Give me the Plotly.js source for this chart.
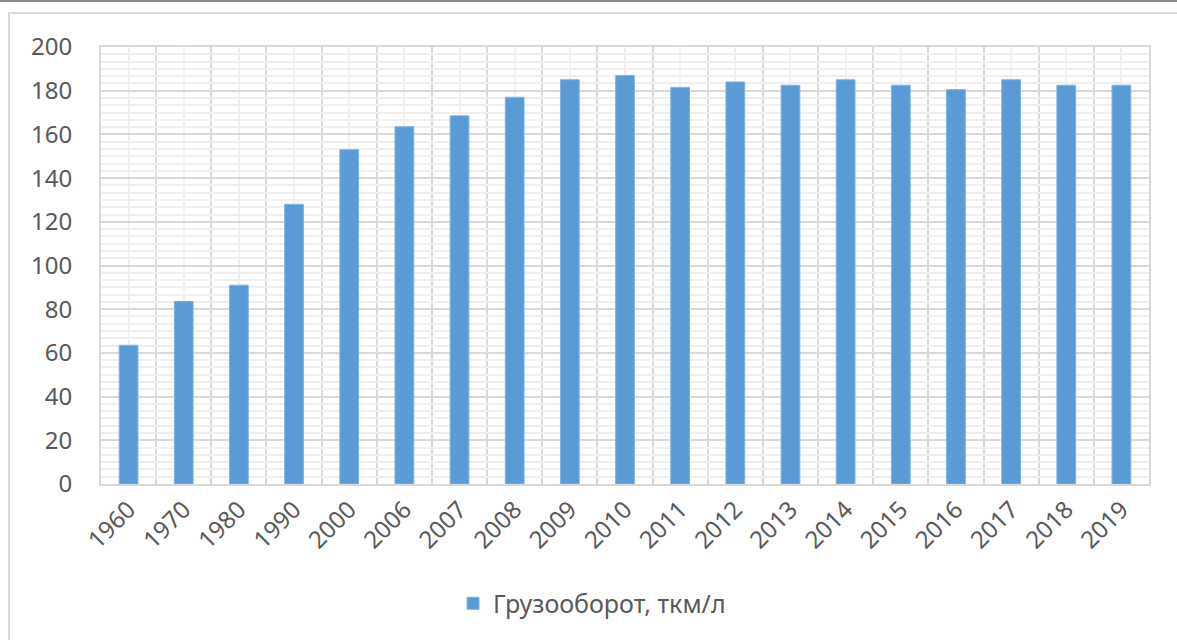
<!DOCTYPE html>
<html>
<head>
<meta charset="utf-8">
<script src="https://cdn.plot.ly/plotly-3.0.1.min.js"></script>
<style>
  html, body { margin: 0; padding: 0; background: #ffffff; overflow: hidden; }
  body { width: 1177px; height: 640px; position: relative; border-top: 2px solid #8a8a8a; box-sizing: border-box; }
  #frame { position: absolute; left: 8px; top: 10px; width: 1300px; height: 800px;
           border: 2px solid #d9d9d9; box-sizing: border-box; pointer-events: none; }
  #chart { position: absolute; left: 0; top: -2px; width: 1177px; height: 640px; }
</style>
</head>
<body>
<div id="frame"></div>
<div id="chart"></div>
<script>
// Freight turnover per year
const years = ['1960', '1970', '1980', '1990', '2000', '2006', '2007', '2008', '2009', '2010',
               '2011', '2012', '2013', '2014', '2015', '2016', '2017', '2018', '2019'];
const turnover = [63.5, 83.5, 91, 128, 153, 163.5, 168.5, 177, 185, 187,
                  181.5, 184, 182.5, 185, 182.5, 180.5, 185, 182.5, 182.5];
const seriesName = 'Грузооборот, ткм/л';
const yTicks = [0, 20, 40, 60, 80, 100, 120, 140, 160, 180, 200];

const positions = years.map((_, i) => i);

const trace = {
  type: 'bar',
  x: positions,
  y: turnover,
  name: seriesName,
  width: 0.34,
  marker: { color: '#5b9bd5', line: { color: '#7fb2e0', width: 1 } },
  hoverinfo: 'y'
};

const tickFont = { family: 'Noto Sans, Open Sans, sans-serif', size: 24, color: '#595959' };

const layout = {
  width: 1177,
  height: 640,
  paper_bgcolor: 'rgba(0,0,0,0)',
  plot_bgcolor: '#ffffff',
  margin: { l: 101, r: 28, t: 47, b: 156 },
  showlegend: true,
  legend: {
    orientation: 'h',
    x: 0.503, xanchor: 'center', xref: 'container',
    y: 0.057, yanchor: 'middle', yref: 'container',
    font: { family: 'Noto Sans, Open Sans, sans-serif', size: 25, color: '#595959' },
    itemwidth: 30
  },
  xaxis: {
    type: 'linear',
    range: [-0.5, years.length - 0.5],
    tickmode: 'array',
    tickvals: positions,
    ticktext: years,
    tickangle: -45,
    tickfont: tickFont,
    ticks: '',
    showgrid: true,
    gridcolor: '#f0f0f0',
    gridwidth: 2,
    minor: { tick0: -0.5, dtick: 1, showgrid: true, gridcolor: '#d9d9d9', gridwidth: 2, ticks: '' },
    showline: true, mirror: true, linecolor: '#d9d9d9', linewidth: 2,
    zeroline: false,
    fixedrange: true
  },
  yaxis: {
    range: [0, 200],
    tickmode: 'array',
    tickvals: yTicks,
    ticktext: yTicks.map(String),
    tickfont: tickFont,
    ticks: '',
    ticklabelstandoff: 22,
    showgrid: true,
    gridcolor: '#d9d9d9',
    gridwidth: 2,
    minor: { tick0: 0, dtick: 20 / 6, showgrid: true, gridcolor: '#efefef', gridwidth: 2, ticks: '' },
    showline: true, mirror: true, linecolor: '#d9d9d9', linewidth: 2,
    zeroline: false,
    fixedrange: true
  }
};

Plotly.newPlot('chart', [trace], layout, { displayModeBar: false, staticPlot: true });
</script>
</body>
</html>
